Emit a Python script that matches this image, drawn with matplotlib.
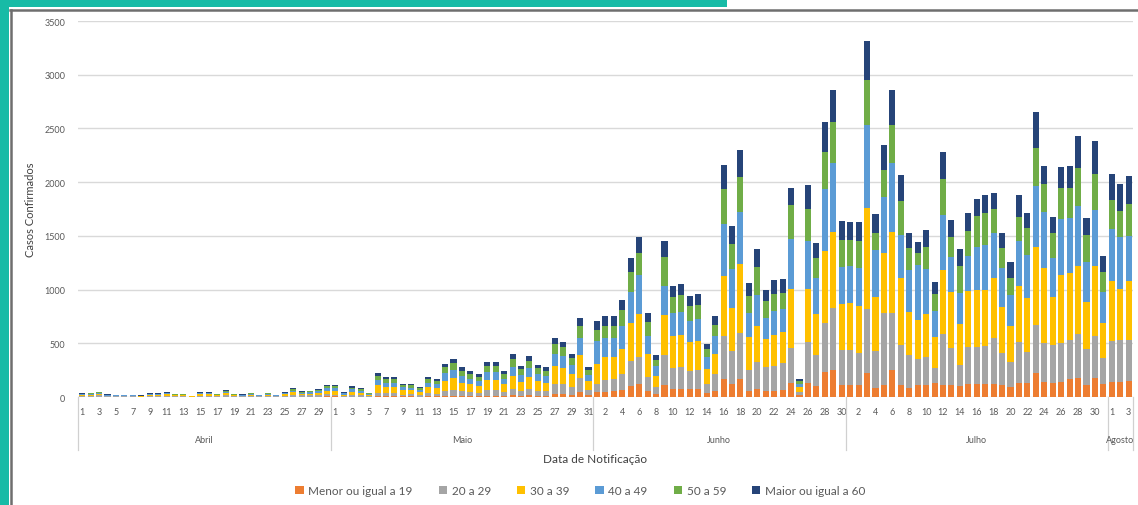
import numpy as np
import matplotlib.pyplot as plt
import matplotlib.transforms as mtransforms
from matplotlib.patches import Rectangle

# ── Data ──────────────────────────────────────────────────────────────────────
months = ["Abril", "Maio", "Junho", "Julho", "Agosto"]
month_days = [30, 31, 30, 31, 3]
groups = ["Menor ou igual a 19", "20 a 29", "30 a 39", "40 a 49", "50 a 59",
          "Maior ou igual a 60"]

menor19 = [2, 2, 3, 1, 1, 1, 1, 1, 2, 2, 2, 1, 1, 0, 2, 2, 1, 3, 1, 1, 2, 1, 2, 1, 2, 4, 3, 3, 4, 6,
           5, 2, 4, 3, 2, 8, 7, 7, 5, 5, 4, 7, 6, 12, 14, 11, 9, 8, 13, 13, 10, 16, 12, 15, 12, 11, 30, 28, 22, 45, 15,
           45, 50, 55, 65, 105, 125, 55, 30, 110, 70, 75, 70, 70, 35, 60, 170, 120, 170, 60, 70, 60, 60, 65, 130, 15, 130, 100, 230, 250, 115,
           115, 115, 225, 85, 115, 255, 115, 85, 115, 115, 130, 115, 115, 100, 125, 125, 125, 125, 110, 90, 135, 130, 225, 140, 130, 140, 170, 175, 110, 175, 120,
           140, 140, 150]
de20a29 = [8, 9, 12, 6, 5, 5, 5, 3, 8, 8, 10, 7, 7, 2, 10, 10, 7, 15, 7, 6, 9, 5, 9, 5, 10, 18, 12, 13, 15, 22,
           15, 7, 14, 12, 6, 32, 27, 27, 18, 19, 14, 28, 25, 46, 53, 41, 36, 32, 49, 48, 36, 60, 44, 57, 45, 41, 95, 90, 70, 135, 50,
           75, 110, 115, 145, 230, 250, 130, 60, 280, 200, 200, 175, 180, 90, 150, 400, 310, 430, 190, 260, 220, 230, 250, 330, 30, 380, 290, 460, 575, 325,
           325, 295, 590, 340, 665, 525, 370, 310, 235, 255, 140, 475, 340, 200, 340, 345, 350, 420, 300, 240, 380, 290, 450, 360, 350, 360, 360, 410, 340, 390, 240,
           380, 390, 380]
de30a39 = [9, 10, 13, 6, 5, 5, 5, 4, 9, 9, 12, 8, 8, 3, 12, 12, 8, 18, 8, 6, 10, 5, 10, 5, 12, 22, 15, 16, 19, 32,
           35, 14, 30, 24, 12, 68, 56, 55, 38, 37, 29, 55, 51, 93, 106, 83, 72, 65, 97, 98, 72, 120, 87, 114, 90, 83, 160, 150, 118, 210, 82,
           190, 210, 205, 240, 350, 400, 215, 105, 370, 300, 305, 270, 275, 140, 195, 560, 400, 640, 310, 330, 260, 290, 290, 550, 45, 500, 380, 670, 715, 430,
           435, 435, 940, 510, 560, 760, 620, 400, 370, 400, 290, 590, 525, 380, 520, 525, 520, 560, 430, 330, 520, 500, 720, 700, 450, 640, 620, 630, 430, 650, 330,
           560, 480, 550]
de40a49 = [7, 8, 10, 5, 4, 4, 4, 3, 7, 7, 9, 6, 6, 2, 9, 9, 6, 13, 6, 5, 8, 4, 8, 4, 9, 16, 11, 12, 14, 25,
           25, 10, 22, 18, 9, 50, 41, 42, 28, 27, 21, 41, 38, 68, 78, 60, 53, 47, 72, 71, 53, 88, 64, 84, 66, 60, 115, 110, 85, 155, 60,
           215, 180, 175, 215, 290, 360, 170, 90, 270, 210, 215, 195, 200, 110, 160, 480, 360, 480, 220, 290, 200, 220, 210, 460, 35, 440, 340, 580, 640, 340,
           340, 355, 775, 435, 525, 635, 400, 390, 510, 420, 240, 510, 320, 290, 330, 400, 420, 420, 360, 285, 420, 400, 570, 520, 360, 520, 520, 560, 380, 530, 290,
           480, 480, 420]
de50a59 = [5, 6, 7, 4, 3, 3, 3, 2, 5, 5, 7, 4, 4, 2, 7, 7, 5, 9, 5, 4, 6, 3, 6, 3, 7, 12, 8, 9, 10, 18,
           22, 8, 18, 14, 7, 42, 34, 33, 23, 23, 17, 34, 31, 56, 64, 50, 43, 39, 58, 59, 43, 72, 52, 68, 54, 50, 90, 85, 65, 120, 46,
           100, 115, 115, 145, 190, 210, 125, 60, 270, 150, 150, 135, 135, 70, 105, 330, 230, 330, 160, 260, 150, 160, 150, 320, 25, 300, 180, 340, 380, 250,
           250, 250, 425, 160, 250, 355, 320, 200, 110, 210, 160, 340, 190, 250, 230, 290, 300, 225, 190, 160, 220, 250, 355, 260, 240, 290, 280, 360, 250, 330, 180,
           270, 240, 300]
maior60 = [4, 5, 5, 3, 2, 2, 2, 2, 4, 4, 5, 4, 4, 1, 5, 5, 3, 7, 3, 3, 5, 2, 5, 2, 5, 8, 6, 7, 8, 12,
           13, 4, 12, 9, 4, 25, 20, 21, 13, 14, 10, 20, 19, 35, 40, 30, 27, 24, 36, 36, 26, 44, 31, 42, 33, 30, 55, 52, 40, 70, 27,
           85, 85, 85, 90, 130, 140, 85, 45, 155, 105, 105, 95, 100, 50, 80, 220, 175, 250, 125, 170, 110, 130, 135, 160, 15, 220, 145, 280, 295, 175,
           165, 180, 360, 175, 235, 330, 245, 145, 100, 155, 115, 250, 160, 160, 165, 160, 170, 150, 140, 150, 210, 140, 330, 175, 150, 190, 205, 290, 155, 305, 155,
           250, 250, 260]

colors = ["#ED7D31", "#A5A5A5", "#FFC000", "#5B9BD5", "#70AD47", "#264478"]
series = [menor19, de20a29, de30a39, de40a49, de50a59, maior60]

# day-of-month labels and month boundaries
day_labels = [str(d) for n in month_days for d in range(1, n + 1)]
x = np.arange(len(day_labels))
bounds = np.concatenate([[0], np.cumsum(month_days)]) - 0.5

plt.rcParams['font.family'] = ['Lato', 'DejaVu Sans']

fig = plt.figure(figsize=(11.38, 5.06), dpi=100)
ax = fig.add_axes([0.0685, 0.2134, 0.927, 0.7431])

# ── Stacked bars ──────────────────────────────────────────────────────────────
bottom = np.zeros(len(x))
for vals, col, lab in zip(series, colors, groups):
    vals = np.array(vals, dtype=float)
    ax.bar(x, vals, 0.72, bottom=bottom, color=col, label=lab, zorder=2)
    bottom += vals

ax.set_ylim(0, 3500)
ax.set_xlim(-0.5, len(x) - 0.5)
ax.set_yticks(range(0, 3501, 500))
ax.yaxis.grid(True, color="#d9d9d9", lw=1.0, zorder=0)
ax.set_axisbelow(True)
for s in ax.spines.values():
    s.set_visible(False)
ax.tick_params(axis='y', length=0, pad=9, labelsize=6.5, labelcolor="#595959")
ax.set_xticks(x[::2])
ax.set_xticklabels(day_labels[::2])
ax.tick_params(axis='x', length=0, pad=7, labelsize=6.5, labelcolor="#595959")
ax.set_ylabel("Casos Confirmados", fontsize=8, color="#404040", labelpad=6)

# ── Month level of the category axis ─────────────────────────────────────────
trans = mtransforms.blended_transform_factory(ax.transData, ax.transAxes)
for b in bounds:
    ax.plot([b, b], [0, -0.14], transform=trans, color="#d0d0d0", lw=0.9, clip_on=False)
for i, m in enumerate(months):
    ax.text((bounds[i] + bounds[i + 1]) / 2, -0.112, m, transform=trans,
            ha='center', va='center', fontsize=6.5, color="#595959")
ax.text(0.49, -0.163, "Data de Notificação", transform=ax.transAxes,
        ha='center', va='center', fontsize=8.5, color="#404040")

fig.legend(loc='center', bbox_to_anchor=(0.51, 0.028), ncol=6, frameon=False,
           fontsize=8.5, handlelength=0.7, handleheight=0.7, handletextpad=0.4,
           columnspacing=2.2, labelcolor="#595959")

# ── Screenshot frame ──────────────────────────────────────────────────────────
teal = "#17BBA6"
fig.add_artist(Rectangle((0, 0.984), 0.639, 0.016, transform=fig.transFigure,
                         color=teal, lw=0))
fig.add_artist(Rectangle((0, 0), 0.0075, 1, transform=fig.transFigure,
                         color=teal, lw=0))
fig.add_artist(plt.Line2D([0.009, 1], [0.979, 0.979], transform=fig.transFigure,
                          color="#6e6e6e", lw=1.8))
fig.add_artist(plt.Line2D([0.0095, 0.0095], [0, 0.979], transform=fig.transFigure,
                          color="#6e6e6e", lw=1.8))

fig.savefig("out.png", dpi=100)
